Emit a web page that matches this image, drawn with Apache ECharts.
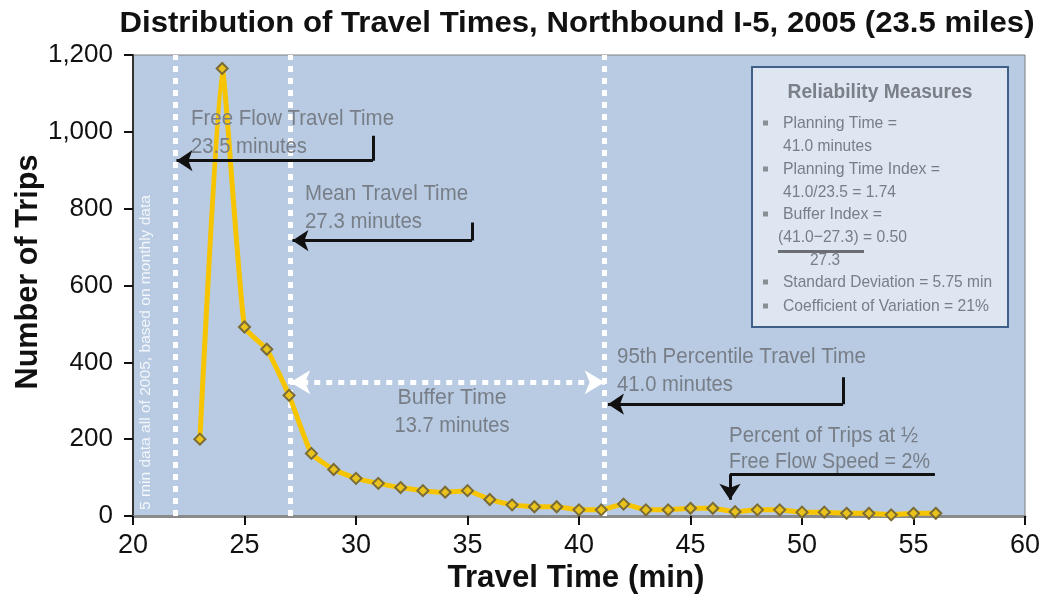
<!DOCTYPE html>
<html><head><meta charset="utf-8">
<script src="https://cdn.jsdelivr.net/npm/echarts@6/dist/echarts.min.js"></script>
<style>html,body{margin:0;padding:0;background:#fff}#c{width:1042px;height:597px}</style>
</head><body><div id="c"></div>
<script>
// ---- data ----
const travelTimes = [23,24,25,26,27,28,29,30,31,32,33,34,35,36,37,38,39,40,41,42,43,44,45,46,47,48,49,50,51,52,53,54,55,56];
const tripCounts  = [200,1165,492,434,314,163,121,98,85,74,66,62,66,43,29,24,24,16,16,31,16,16,20,20,11,16,16,10,10,7,7,3,7,7];
const xTickValues = [20,25,30,35,40,45,50,55,60];
const yTickValues = [0,200,400,600,800,1000,1200];
// vertical dotted reference lines (minutes)
const referenceLines = [21.9, 27.05, 41.15];
// buffer-time double arrow (from mean to 95th percentile)
const bufferArrow = [[27.05, 348], [41.15, 348]];
// callout arrows: [stem top, corner, arrow tip]
const calloutArrows = [
  [[30.76, 990], [30.76, 925], [21.95, 925]],
  [[35.2, 764], [35.2, 717], [27.15, 717]],
  [[51.84, 361], [51.84, 291], [41.3, 291]],
  [[55.96, 109], [46.77, 109], [46.77, 42]]
];

const SANS = "'Liberation Sans', Arial, sans-serif";
const TXT = '#787e87';

const measureCtx = document.createElement('canvas').getContext('2d');
function fitScale(text, font, width) {
  measureCtx.font = font;
  const w = measureCtx.measureText(text).width;
  return w > 0 ? width / w : 1;
}
// text element compressed horizontally to a target width (narrow-font look)
function t(x, y, text, width, opts) {
  opts = opts || {};
  const font = opts.font || ('22px ' + SANS);
  return {
    type:'text', x:x, y:y, z:100,
    scaleX: fitScale(text, font, width), scaleY: 1,
    rotation: opts.rotation || 0,
    style:{text:text, fill:opts.fill || TXT, font:font, textVerticalAlign:'middle', textAlign:opts.align || 'left'}
  };
}

const chart = echarts.init(document.getElementById('c'), null, {renderer:'canvas'});

const stems = calloutArrows.map(a => ({coords:[a[0], a[1]]}));
const heads = calloutArrows.map(a => ({coords:[a[1], a[2]]}));

const boxFont = '17px ' + SANS;
const bulletYs = [123, 169, 214, 282, 306];

const graphics = [
  // title and axis titles
  t(577, 24, 'Distribution of Travel Times, Northbound I-5, 2005 (23.5 miles)', 915, {fill:'#111', font:'bold 30px ' + SANS, align:'center'}),
  t(576, 578, 'Travel Time (min)', 257, {fill:'#111', font:'bold 32px ' + SANS, align:'center'}),
  t(28, 272, 'Number of Trips', 235, {fill:'#111', font:'bold 32px ' + SANS, align:'center', rotation:Math.PI/2}),
  // annotations
  t(191, 119, 'Free Flow Travel Time', 203),
  t(191, 147, '23.5 minutes', 116),
  t(305, 194, 'Mean Travel Time', 163),
  t(305, 222, '27.3 minutes', 117),
  t(452, 398, 'Buffer Time', 109, {align:'center'}),
  t(452, 426, '13.7 minutes', 115, {align:'center'}),
  t(617, 357, '95th Percentile Travel Time', 249),
  t(617, 385, '41.0 minutes', 116),
  t(729, 436, 'Percent of Trips at \u00BD', 189),
  t(729, 462, 'Free Flow Speed = 2%', 201),
  t(146, 510, '5 min data all of 2005, based on monthly data', 315, {fill:'#f3f6fa', font:'15px ' + SANS, rotation:Math.PI/2}),
  // reliability box
  {type:'rect', z:90, shape:{x:752, y:67, width:256, height:260}, style:{fill:'#dde6f1', stroke:'#3e5f87', lineWidth:2}},
  t(880, 92, 'Reliability Measures', 185, {align:'center', font:'bold 20px ' + SANS, fill:'#7b8088'}),
  t(783, 123, 'Planning Time =', 114, {font:boxFont}),
  t(783, 146, '41.0 minutes', 89, {font:boxFont}),
  t(783, 169, 'Planning Time Index =', 157, {font:boxFont}),
  t(783, 192, '41.0/23.5 = 1.74', 113, {font:boxFont}),
  t(783, 214, 'Buffer Index =', 99, {font:boxFont}),
  t(778, 237, '(41.0\u221227.3) = 0.50', 129, {font:boxFont}),
  {type:'rect', z:95, shape:{x:778, y:250, width:86, height:3}, style:{fill:'#6b6f75'}},
  t(825, 260, '27.3', 30, {font:boxFont, align:'center'}),
  t(783, 282, 'Standard Deviation = 5.75 min', 209, {font:boxFont}),
  t(783, 306, 'Coefficient of Variation = 21%', 206, {font:boxFont})
].concat(bulletYs.map(y => ({type:'rect', z:95, shape:{x:763, y:y-2.5, width:5, height:5}, style:{fill:'#8a8f96'}})));

const option = {
  animation:false,
  backgroundColor:'#ffffff',
  grid:{left:133, right:17, top:55, bottom:81, outerBoundsMode:'none', containLabel:false,
        show:true, backgroundColor:'#b8cbe3', borderColor:'#7f7f7f', borderWidth:1},
  xAxis:{
    type:'value', min:20, max:60, interval:5,
    axisLine:{show:true, lineStyle:{color:'#8a8a8a', width:3}},
    axisTick:{show:true, length:9, lineStyle:{color:'#111', width:2}},
    axisLabel:{fontFamily:SANS, fontSize:27, color:'#111', margin:16,
      formatter: v => xTickValues.includes(v) ? String(v) : ''},
    splitLine:{show:false}
  },
  yAxis:{
    type:'value', min:0, max:1200, interval:200,
    axisLine:{show:true, lineStyle:{color:'#333', width:2}},
    axisTick:{show:true, length:9, lineStyle:{color:'#111', width:2}},
    axisLabel:{fontFamily:SANS, fontSize:26, color:'#111', margin:20,
      formatter: v => yTickValues.includes(v) ? v.toLocaleString('en-US') : ''},
    splitLine:{show:false}
  },
  series:[
    {
      type:'line', z:5,
      data: travelTimes.map((x,i) => [x, tripCounts[i]]),
      smooth:0.15,
      lineStyle:{color:'#f6c500', width:5},
      symbol:'diamond', symbolSize:11,
      itemStyle:{color:'#e9c21c', borderColor:'#7a6b36', borderWidth:2},
      markLine:{
        silent:true, symbol:'none', z:3,
        label:{show:false},
        lineStyle:{color:'#ffffff', width:5, type:[6,6], cap:'butt'},
        data: referenceLines.map(v => ({xAxis:v})).concat([
          [{coord:bufferArrow[0], symbol:'arrow', symbolSize:[18,20]}, {coord:bufferArrow[1], symbol:'arrow', symbolSize:[18,20]}]
        ])
      }
    },
    {
      type:'lines', coordinateSystem:'cartesian2d', z:6, silent:true,
      symbol:'none',
      lineStyle:{color:'#111', width:3, opacity:1},
      data: stems
    },
    {
      type:'lines', coordinateSystem:'cartesian2d', z:6, silent:true,
      symbol:['none','arrow'], symbolSize:16,
      lineStyle:{color:'#111', width:3, opacity:1},
      data: heads
    }
  ],
  graphic: graphics
};
chart.setOption(option);
</script>
</body></html>
